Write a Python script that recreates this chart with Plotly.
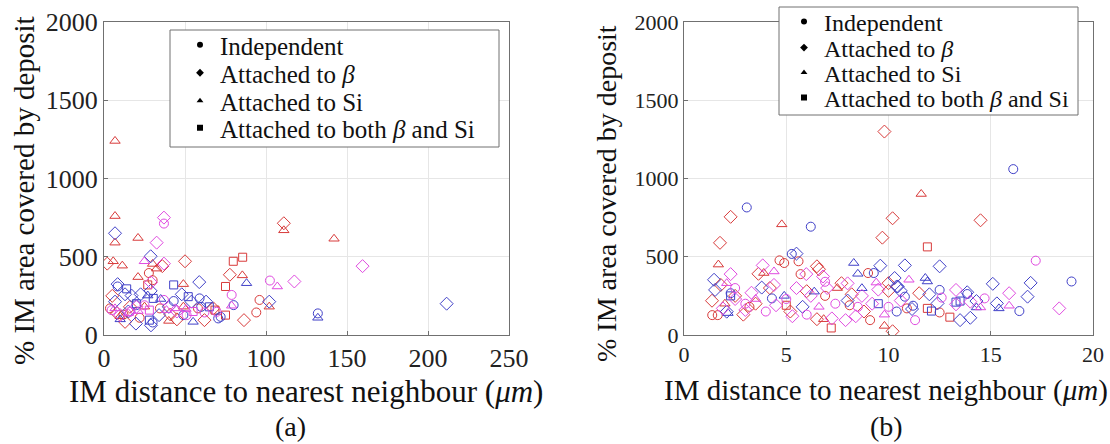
import plotly.graph_objects as go

W, H = 1110, 444

# ---------------- data: panel (a) ----------------
A_RED_CIRCLE = [(3.7,170),(12,130),(22,110),(27.7,396),(30,350),(34.5,170),(58,170),(94,144),(96,224)]
A_RED_DIAMOND = [(2,456),(5.1,250),(8,140),(13,84),(16,180),(36,440),(41,131),(45,100),(50,471),(62,95),
                 (67.5,170),(77.7,385),(86.4,95),(111,714)]
A_RED_TRIANGLE = [(6.8,1240),(6.8,760),(6.8,590),(21,620),(5.7,471),(11.3,443),(30,454),(32.5,424),(21,370),
                  (25,181),(49,181),(49,325),(85.4,381),(102,181),(111,669),(142,615),(10,120),(40,90)]
A_RED_SQUARE = [(79.8,471),(85.6,497),(75,310),(68.5,159),(75,127),(27,320)]
A_BLUE_CIRCLE = [(8.4,310),(20,191),(43,217),(49,127),(59,234),(70.5,106),(72,116),(80,191),(132,138),(30,80),(60,180)]
A_BLUE_DIAMOND = [(6.8,650),(6.8,213),(8.4,325),(13,260),(17,252),(19.7,73),(22.6,260),(28.8,282),(28.8,503),
                  (29,62),(34,127),(48,260),(54,213),(58.8,338),(63,213),(102,213),(211.5,200),(15,150),(40,180)]
A_BLUE_TRIANGLE = [(27,252),(55,84),(88,331),(132,110),(10,100),(35,230)]
A_BLUE_SQUARE = [(14,295),(30.4,234),(43,320),(52,245),(28,95),(20,200),(65,180)]
A_MAG_CIRCLE = [(4.7,159),(16,148),(37,224),(37,712),(51,127),(62,144),(69.5,148),(78.8,256),(102.4,348),(25,190)]
A_MAG_DIAMOND = [(37,750),(32.5,590),(37,456),(29,336),(10,127),(117.5,342),(159.6,440),(20,180),(45,150)]
A_MAG_TRIANGLE = [(24.9,471),(6.8,170),(21,153),(38.6,159),(44,170),(50.6,166),(78.8,187),(107,310),(15,140)]
A_MAG_SQUARE = [(28,159),(55,150)]

# ---------------- data: panel (b) ----------------
B_RED_CIRCLE = [(4.67,477),(4.9,460),(5.6,471),(5.7,389),(1.38,127),(1.65,127),(9.1,95),(9.0,396),(10.9,170),
                (12.5,144),(3.2,180),(6.9,250),(8.1,190)]
B_RED_DIAMOND = [(9.8,1300),(2.28,755),(10.2,746),(9.7,622),(1.76,589),(3.64,391),(6.5,439),(6.6,420),(7.7,331),
                 (1.37,219),(6.5,101),(10.2,24),(10.0,331),(10.0,282),(11.5,267),(14.5,733),(2.5,250),(3.5,200),
                 (4.2,300),(5.2,150),(8.2,260),(8.8,150),(6.0,280),(1.8,320),(2.9,130)]
B_RED_TRIANGLE = [(1.68,450),(4.78,707),(3.9,396),(6.83,101),(9.8,58),(11.6,901),(2.0,200),(7.5,300)]
B_RED_SQUARE = [(7.2,45),(11.9,563),(11.9,170),(13.0,114),(5.0,190)]
B_BLUE_CIRCLE = [(3.07,815),(6.2,692),(5.27,518),(9.28,396),(4.3,234),(2.28,267),(10.8,245),(11.2,187),(12.5,288),
                 (13.85,262),(16.4,153),(16.1,1060),(18.95,342),(10.4,150)]
B_BLUE_DIAMOND = [(5.5,520),(1.47,353),(1.52,288),(9.6,443),(10.3,364),(10.4,310),(3.8,303),(2.09,149),(10.8,445),
                  (12.5,439),(10.45,310),(10.6,282),(12.0,260),(13.85,273),(14.3,217),(12.4,202),(11.15,166),
                  (13.5,95),(14.0,110),(15.1,327),(16.95,333),(16.8,245),(15.3,202),(5.8,180),(8.0,220)]
B_BLUE_TRIANGLE = [(8.3,460),(8.5,391),(8.7,299),(6.37,277),(2.15,140),(11.8,364),(11.9,342),(14.3,176),(15.4,170),(4.9,250)]
B_BLUE_SQUARE = [(2.28,250),(13.5,217),(13.3,210),(12.1,153),(9.5,200)]
B_MAG_CIRCLE = [(6.9,340),(12.6,239),(14.7,234),(11.3,95),(17.2,475),(10.0,180),(3.0,200),(4.0,150),(5.0,230),
                (8.5,180),(2.5,300),(6.0,130),(7.4,200)]
B_MAG_DIAMOND = [(3.85,445),(2.28,389),(5.98,389),(6.8,374),(7.23,106),(7.9,95),(13.3,288),(14.0,213),(13.3,196),
                 (15.9,267),(18.35,170),(2.5,230),(3.3,270),(4.5,190),(5.5,300),(6.2,250),(7.0,300),(8.0,330),
                 (8.7,250),(9.2,200),(10.6,220),(1.9,170),(3.0,160),(4.4,320),(5.3,120),(8.4,120),(9.5,290)]
B_MAG_TRIANGLE = [(4.4,406),(2.09,331),(9.4,335),(11.0,353),(14.5,176),(15.9,187),(9.8,130),(6.6,180),(3.5,230)]

LEGEND_NAMES = ["Independent", "Attached to <i>β</i>", "Attached to Si", "Attached to both <i>β</i> and Si"]
LEGEND_SYMBOLS = ["circle", "diamond", "triangle-up", "square"]
X_TICKS_A = [0, 50, 100, 150, 200, 250]
X_TICKS_B = [0, 5, 10, 15, 20]
Y_TICKS = [0, 500, 1000, 1500, 2000]

RED, BLUE, MAG = "#d83a3a", "#4040c8", "#e04ae0"
SYM = {"circle": ("circle-open", 9), "diamond": ("diamond-open", 10),
       "triangle": ("triangle-up-open", 9), "square": ("square-open", 8)}

PANEL_A = [(A_RED_CIRCLE, RED, "circle"), (A_RED_DIAMOND, RED, "diamond"), (A_RED_TRIANGLE, RED, "triangle"),
           (A_RED_SQUARE, RED, "square"), (A_BLUE_CIRCLE, BLUE, "circle"), (A_BLUE_DIAMOND, BLUE, "diamond"),
           (A_BLUE_TRIANGLE, BLUE, "triangle"), (A_BLUE_SQUARE, BLUE, "square"), (A_MAG_CIRCLE, MAG, "circle"),
           (A_MAG_DIAMOND, MAG, "diamond"), (A_MAG_TRIANGLE, MAG, "triangle"), (A_MAG_SQUARE, MAG, "square")]
PANEL_B = [(B_RED_CIRCLE, RED, "circle"), (B_RED_DIAMOND, RED, "diamond"), (B_RED_TRIANGLE, RED, "triangle"),
           (B_RED_SQUARE, RED, "square"), (B_BLUE_CIRCLE, BLUE, "circle"), (B_BLUE_DIAMOND, BLUE, "diamond"),
           (B_BLUE_TRIANGLE, BLUE, "triangle"), (B_BLUE_SQUARE, BLUE, "square"), (B_MAG_CIRCLE, MAG, "circle"),
           (B_MAG_DIAMOND, MAG, "diamond"), (B_MAG_TRIANGLE, MAG, "triangle")]

FONT = "Liberation Serif"
fig = go.Figure()

def px(v): return v / W
def py(v): return 1 - v / H

def add_panel(groups, xa, ya):
    for pts, col, shp in groups:
        s, size = SYM[shp]
        fig.add_trace(go.Scatter(
            x=[p[0] for p in pts], y=[p[1] for p in pts], mode="markers",
            xaxis=xa, yaxis=ya, showlegend=False, hoverinfo="x+y",
            marker=dict(symbol=s, size=size, color=col, line=dict(width=1, color=col))))

add_panel(PANEL_A, "x", "y")
add_panel(PANEL_B, "x2", "y2")

# legends: one single-entry legend per row so row spacing matches the reference
legend_layout = {}
panels_leg = [("x", "y", 180, [45, 73, 101, 128], 25), ("x2", "y2", 784, [22, 48, 73, 98], 24)]
k = 0
for xa, ya, lx, rows, fsize in panels_leg:
    for name, shp, ry in zip(LEGEND_NAMES, LEGEND_SYMBOLS, rows):
        k += 1
        lname = "legend" if k == 1 else f"legend{k}"
        fig.add_trace(go.Scatter(x=[None], y=[None], mode="markers", name=name, legend=lname,
                                 xaxis=xa, yaxis=ya,
                                 marker=dict(symbol=shp, size=6, color="black")))
        legend_layout[lname] = dict(x=px(lx), y=py(ry), xanchor="left", yanchor="middle",
                                    bgcolor="rgba(0,0,0,0)", borderwidth=0, itemwidth=30,
                                    font=dict(family=FONT, size=fsize, color="#111"))

axis_common = dict(showline=True, mirror=True, linecolor="#707070", linewidth=1,
                   showgrid=True, gridcolor="#e6e6e6", gridwidth=1, zeroline=False,
                   ticks="inside", ticklen=4, tickcolor="#707070")

fig.update_layout(
    width=W, height=H, margin=dict(l=0, r=0, t=0, b=0, autoexpand=False),
    paper_bgcolor="white", plot_bgcolor="white",
    xaxis=dict(domain=[px(104), px(509)], range=[0, 250], tickvals=X_TICKS_A,
               tickfont=dict(family=FONT, size=26, color="#222"), anchor="y", **axis_common),
    yaxis=dict(domain=[py(335), py(22)], range=[0, 2000], tickvals=Y_TICKS,
               tickfont=dict(family=FONT, size=26, color="#222"), anchor="x", **axis_common),
    xaxis2=dict(domain=[px(684), px(1093)], range=[0, 20], tickvals=X_TICKS_B,
                tickfont=dict(family=FONT, size=22, color="#222"), anchor="y2", **axis_common),
    yaxis2=dict(domain=[py(335), py(22)], range=[0, 2000], tickvals=Y_TICKS,
                tickfont=dict(family=FONT, size=22, color="#222"), anchor="x2", **axis_common),
    shapes=[
        dict(type="rect", xref="paper", yref="paper", x0=px(170), x1=px(499), y0=py(147), y1=py(30),
             line=dict(color="#707070", width=1), fillcolor="white", layer="above"),
        dict(type="rect", xref="paper", yref="paper", x0=px(779), x1=px(1078), y0=py(115), y1=py(7),
             line=dict(color="#707070", width=1), fillcolor="white", layer="above"),
    ],
    annotations=[
        dict(text="IM distance to nearest neighbour (<i>μm</i>)", x=px(306), y=py(391), xref="paper", yref="paper",
             showarrow=False, font=dict(family=FONT, size=31, color="#111"), xanchor="center", yanchor="middle"),
        dict(text="IM distance to nearest neighbour (<i>μm</i>)", x=px(886), y=py(390), xref="paper", yref="paper",
             showarrow=False, font=dict(family=FONT, size=29, color="#111"), xanchor="center", yanchor="middle"),
        dict(text="% IM area covered by deposit", x=px(24), y=py(191), xref="paper", yref="paper", textangle=-90,
             showarrow=False, font=dict(family=FONT, size=29, color="#111"), xanchor="center", yanchor="middle"),
        dict(text="% IM area covered by deposit", x=px(606), y=py(194), xref="paper", yref="paper", textangle=-90,
             showarrow=False, font=dict(family=FONT, size=28, color="#111"), xanchor="center", yanchor="middle"),
        dict(text="(a)", x=px(290), y=py(426), xref="paper", yref="paper", showarrow=False,
             font=dict(family=FONT, size=28, color="#111"), xanchor="center", yanchor="middle"),
        dict(text="(b)", x=px(886), y=py(426), xref="paper", yref="paper", showarrow=False,
             font=dict(family=FONT, size=28, color="#111"), xanchor="center", yanchor="middle"),
    ],
    **legend_layout,
)

fig.write_html("out.html")
